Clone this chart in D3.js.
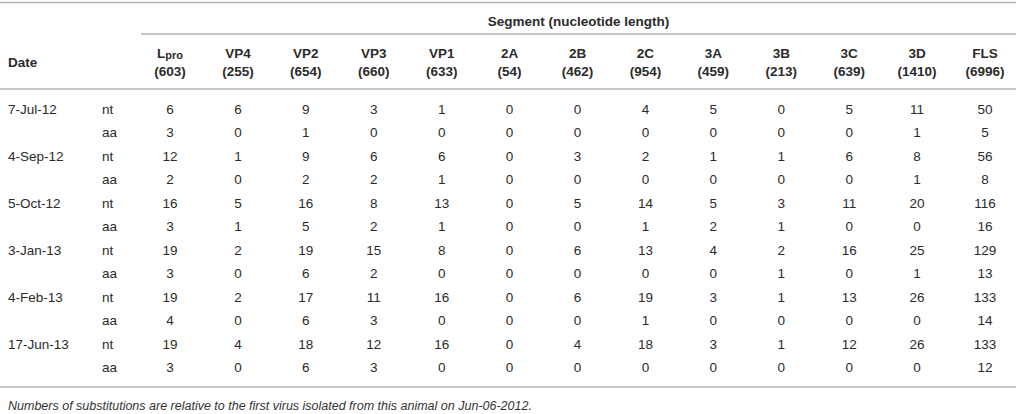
<!DOCTYPE html>
<html>
<head>
<meta charset="utf-8">
<script src="https://cdn.jsdelivr.net/npm/d3@7"></script>
<style>
  html, body { margin: 0; padding: 0; background: #fff; }
  svg { display: block; font-family: "Liberation Sans", Arial, Helvetica, sans-serif; }
</style>
</head>
<body>
<svg id="chart" width="1016" height="414"></svg>
<script>
const dates = ["7-Jul-12", "4-Sep-12", "5-Oct-12", "3-Jan-13", "4-Feb-13", "17-Jun-13"];
const segments = ["Lpro", "VP4", "VP2", "VP3", "VP1", "2A", "2B", "2C", "3A", "3B", "3C", "3D", "FLS"];
const lengths = [603, 255, 654, 660, 633, 54, 462, 954, 459, 213, 639, 1410, 6996];
const types = ["nt", "aa"];
const ntValues = [
  [6, 6, 9, 3, 1, 0, 0, 4, 5, 0, 5, 11, 50],
  [12, 1, 9, 6, 6, 0, 3, 2, 1, 1, 6, 8, 56],
  [16, 5, 16, 8, 13, 0, 5, 14, 5, 3, 11, 20, 116],
  [19, 2, 19, 15, 8, 0, 6, 13, 4, 2, 16, 25, 129],
  [19, 2, 17, 11, 16, 0, 6, 19, 3, 1, 13, 26, 133],
  [19, 4, 18, 12, 16, 0, 4, 18, 3, 1, 12, 26, 133]
];
const aaValues = [
  [3, 0, 1, 0, 0, 0, 0, 0, 0, 0, 0, 1, 5],
  [2, 0, 2, 2, 1, 0, 0, 0, 0, 0, 0, 1, 8],
  [3, 1, 5, 2, 1, 0, 0, 1, 2, 1, 0, 0, 16],
  [3, 0, 6, 2, 0, 0, 0, 0, 0, 1, 0, 1, 13],
  [4, 0, 6, 3, 0, 0, 0, 1, 0, 0, 0, 0, 14],
  [3, 0, 6, 3, 0, 0, 0, 0, 0, 0, 0, 0, 12]
];
const headerTitle = "Segment (nucleotide length)";
const dateHeader = "Date";
const footnote = "Numbers of substitutions are relative to the first virus isolated from this animal on Jun-06-2012.";

// build rows
const rows = [];
dates.forEach((d, i) => {
  rows.push({ date: d, type: "nt", values: ntValues[i] });
  rows.push({ date: "", type: "aa", values: aaValues[i] });
});

const svg = d3.select("#chart");
const W = 1016;
const textColor = "#2b2b2b";
const lineColor = "#b3b3b3";
const fs = 13.5;

const x = d3.scalePoint().domain(segments).range([170, 985]);
const y = d3.scalePoint().domain(d3.range(rows.length)).range([109, 367.5]);

// rules
const rules = [
  { x1: 0, x2: W, y: 2.5 },
  { x1: 141, x2: W, y: 34 },
  { x1: 0, x2: W, y: 89 },
  { x1: 0, x2: W, y: 387 }
];
svg.selectAll("line.rule").data(rules).join("line")
  .attr("class", "rule")
  .attr("x1", d => d.x1).attr("x2", d => d.x2)
  .attr("y1", d => d.y).attr("y2", d => d.y)
  .attr("stroke", lineColor).attr("stroke-width", 1.6);

// header
svg.append("text")
  .attr("x", (141 + W) / 2).attr("y", 21)
  .attr("text-anchor", "middle").attr("dominant-baseline", "central")
  .attr("font-weight", "bold").attr("font-size", fs).attr("fill", textColor)
  .text(headerTitle);

svg.append("text")
  .attr("x", 8).attr("y", 62)
  .attr("dominant-baseline", "central")
  .attr("font-weight", "bold").attr("font-size", fs).attr("fill", textColor)
  .text(dateHeader);

const heads = svg.selectAll("g.head").data(segments).join("g")
  .attr("class", "head")
  .attr("transform", d => `translate(${x(d)},0)`);

heads.append("text")
  .attr("y", 53).attr("text-anchor", "middle").attr("dominant-baseline", "central")
  .attr("font-weight", "bold").attr("font-size", fs).attr("fill", textColor)
  .each(function (d) {
    const t = d3.select(this);
    if (d === "Lpro") {
      t.append("tspan").text("L");
      t.append("tspan").attr("font-size", 11).attr("dy", 2).text("pro");
    } else {
      t.text(d);
    }
  });

heads.append("text")
  .attr("y", 71).attr("text-anchor", "middle").attr("dominant-baseline", "central")
  .attr("font-weight", "bold").attr("font-size", fs).attr("fill", textColor)
  .text((d, i) => `(${lengths[i]})`);

// body
const rowG = svg.selectAll("g.row").data(rows).join("g")
  .attr("class", "row")
  .attr("transform", (d, i) => `translate(0,${y(i)})`);

rowG.append("text")
  .attr("x", 8).attr("dominant-baseline", "central")
  .attr("font-size", fs).attr("fill", textColor)
  .text(d => d.date);

rowG.append("text")
  .attr("x", 102).attr("dominant-baseline", "central")
  .attr("font-size", fs).attr("fill", textColor)
  .text(d => d.type);

rowG.selectAll("text.val").data(d => d.values).join("text")
  .attr("class", "val")
  .attr("x", (v, j) => x(segments[j]))
  .attr("text-anchor", "middle").attr("dominant-baseline", "central")
  .attr("font-size", fs).attr("fill", textColor)
  .text(v => v);

// footnote
svg.append("text")
  .attr("x", 8).attr("y", 406)
  .attr("dominant-baseline", "central")
  .attr("font-style", "italic").attr("font-size", 12.5).attr("fill", "#333")
  .text(footnote);
</script>
</body>
</html>
